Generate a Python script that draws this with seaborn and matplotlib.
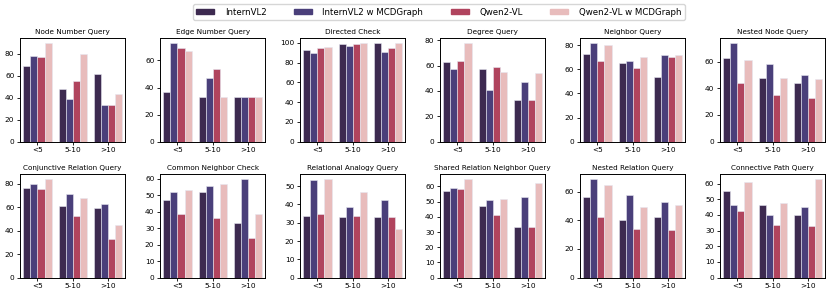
import matplotlib
matplotlib.use("Agg")
import matplotlib.pyplot as plt
from matplotlib.ticker import MaxNLocator
import seaborn as sns
import pandas as pd

# Data
groups = ['<5', '5-10', '>10']
models = ['InternVL2', 'InternVL2 w MCDGraph', 'Qwen2-VL', 'Qwen2-VL w MCDGraph']
colors = ['#3d2a50', '#4a3f7a', '#b0445e', '#e8bcbc']

tasks = [
    'Node Number Query', 'Edge Number Query', 'Directed Check',
    'Degree Query', 'Neighbor Query', 'Nested Node Query',
    'Conjunctive Relation Query', 'Common Neighbor Check', 'Relational Analogy Query',
    'Shared Relation Neighbor Query', 'Nested Relation Query', 'Connective Path Query',
]

# each entry: [InternVL2, InternVL2 w MCDGraph, Qwen2-VL, Qwen2-VL w MCDGraph] per group
node_number = [[69, 78, 77, 90], [48, 39, 55, 80], [62, 33, 33, 43]]
edge_number = [[37, 73, 69, 67], [33, 47, 54, 33], [33, 33, 33, 33]]
directed_check = [[93, 90, 95, 96], [99, 97, 99, 100], [100, 91, 95, 100]]
degree = [[63, 57, 64, 78], [57, 41, 59, 55], [33, 47, 33, 54]]
neighbor = [[73, 82, 67, 80], [65, 67, 61, 70], [54, 72, 70, 72]]
nested_node = [[63, 74, 44, 61], [48, 58, 35, 48], [44, 50, 33, 47]]
conjunctive = [[76, 80, 75, 84], [61, 71, 52, 68], [59, 63, 33, 45]]
common_neighbor = [[47, 52, 38.5, 53.5], [52, 55.5, 36.5, 57], [33, 60, 24, 38.5]]
relational_analogy = [[33.5, 53.5, 35, 54], [33, 38.5, 33.5, 47], [33, 42.5, 33, 26.5]]
shared_relation = [[57, 59, 58, 65], [47, 51, 41, 52], [33, 53, 33, 62]]
nested_relation = [[56, 69, 42, 65], [40.5, 58, 34, 49], [42.5, 53, 33, 51]]
connective_path = [[55, 46, 42.5, 61], [46.5, 40, 33.5, 47.5], [40, 45, 33, 63]]

all_values = [node_number, edge_number, directed_check, degree, neighbor, nested_node,
              conjunctive, common_neighbor, relational_analogy, shared_relation,
              nested_relation, connective_path]

fig, axes = plt.subplots(2, 6, figsize=(8.31, 2.96), dpi=100)
fig.subplots_adjust(left=0.024, right=0.993, top=0.872, bottom=0.062, wspace=0.33, hspace=0.31)

for ax, task, vals in zip(axes.flat, tasks, all_values):
    rows = []
    for g, row in zip(groups, vals):
        for m, v in zip(models, row):
            rows.append({'group': g, 'model': m, 'score': v})
    df = pd.DataFrame(rows)
    sns.barplot(data=df, x='group', y='score', hue='model', order=groups, hue_order=models,
                palette=colors, saturation=1, edgecolor='#e6e6f0', linewidth=0.4,
                legend=False, ax=ax)
    ax.set_title(task, fontsize=5.2, pad=3)
    ax.set_xlabel('')
    ax.set_ylabel('')
    ax.yaxis.set_major_locator(MaxNLocator(nbins=7, steps=[1, 2, 2.5, 5, 10]))
    ax.tick_params(labelsize=5.3, length=2.5, pad=1.5, width=0.6)
    for s in ax.spines.values():
        s.set_linewidth(0.7)

handles = [plt.Rectangle((0, 0), 1, 1, color=c) for c in colors]
fig.legend(handles, models, loc='upper center', ncol=4, fontsize=6.2,
           bbox_to_anchor=(0.528, 1.0), frameon=True, handlelength=2.1,
           handleheight=0.6, handletextpad=1.2, columnspacing=3.2)

fig.savefig('out.png', dpi=100)
